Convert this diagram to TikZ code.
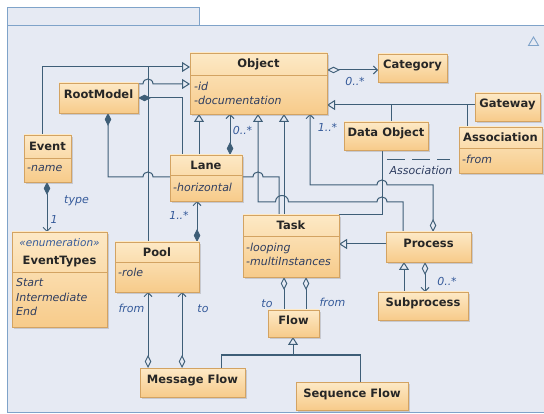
\documentclass[tikz,border=0pt]{standalone}
\usepackage{fontspec}
\setmainfont{DejaVu Sans}
\usetikzlibrary{arrows.meta,shadows}
\pgfdeclarelayer{bgframe}
\pgfdeclarelayer{lines}
\pgfsetlayers{bgframe,lines,main}
\definecolor{framefill}{HTML}{E6EAF3}
\definecolor{frameline}{HTML}{7FA3C9}
\definecolor{boxtop}{HTML}{FDE9C6}
\definecolor{boxbot}{HTML}{F7CB8A}
\definecolor{boxline}{HTML}{D3A362}
\definecolor{conn}{HTML}{3E5E77}
\definecolor{lblc}{HTML}{355A9A}
\definecolor{attrc}{HTML}{2E3D60}
\tikzset{
  ucls/.style={draw=boxline, line width=0.8pt, top color=boxtop, bottom color=boxbot,
    inner sep=0pt, outer sep=0pt, anchor=north west,
    drop shadow={shadow xshift=2pt, shadow yshift=-2pt, opacity=0.3}},
  uttl/.style={font=\bfseries\fontsize{11.5}{13}\selectfont, text=black!85, inner sep=0pt, anchor=base},
  uatt/.style={font=\itshape\fontsize{11}{13}\selectfont, text=attrc, inner sep=0pt, anchor=base west},
  ulab/.style={font=\itshape\fontsize{11}{13}\selectfont, text=lblc, inner sep=0pt, anchor=base},
  udiv/.style={draw=boxline, line width=0.7pt},
  ucn/.style={draw=conn, line width=1pt},
  ugen/.style={ucn, -{Triangle[open, length=8pt, width=10pt]}},
  ucomp/.style={ucn, {Diamond[length=13pt, width=6.5pt]}-{Straight Barb[length=4pt, width=8pt]}},
  ucompn/.style={ucn, {Diamond[length=13pt, width=6.5pt]}-},
  uaggr/.style={ucn, {Diamond[open, length=13pt, width=6.5pt]}-{Straight Barb[length=4pt, width=8pt]}},
  uaggrn/.style={ucn, {Diamond[open, length=13pt, width=6.5pt]}-},
  uhop/.style n args={3}{insert path={-- ({#1-(#3)},{#2}) .. controls ({#1-(#3)},{#2+1.333*abs(#3)}) and ({#1+(#3)},{#2+1.333*abs(#3)}) .. ({#1+(#3)},{#2})}},
}
\begin{document}
\begin{tikzpicture}[x=1pt,y=1pt]
\useasboundingbox (0,0) rectangle (544,-414);
\begin{pgfonlayer}{bgframe}
\fill[white] (0,0) rectangle (544,-414);
\draw[frameline, fill=framefill, line width=0.9pt] (7,-7) rectangle (199,-25);
\draw[frameline, fill=framefill, line width=0.9pt] (7,-25) rectangle (560,-412);
\draw[frameline, line width=0.9pt] (528.5,-45.5) -- (538.5,-45.5) -- (533.5,-37) -- cycle;
\end{pgfonlayer}

% ---------- class boxes ----------
\node[ucls, minimum width=137pt, minimum height=61pt] (Object) at (190,-53) {};
\node[ucls, minimum width=69pt, minimum height=28pt] (Category) at (378,-54) {};
\node[ucls, minimum width=79pt, minimum height=30pt] (RootModel) at (59,-83) {};
\node[ucls, minimum width=65pt, minimum height=28pt] (Gateway) at (475,-93) {};
\node[ucls, minimum width=47pt, minimum height=47pt] (Event) at (24,-135) {};
\node[ucls, minimum width=84pt, minimum height=28pt] (DataObject) at (344,-122) {};
\node[ucls, minimum width=83pt, minimum height=46pt] (Association) at (459,-127) {};
\node[ucls, minimum width=72pt, minimum height=46pt] (Lane) at (170,-155) {};
\node[ucls, minimum width=96pt, minimum height=62pt] (Task) at (243,-215) {};
\node[ucls, minimum width=85pt, minimum height=30pt] (Process) at (386,-232) {};
\node[ucls, minimum width=95pt, minimum height=95pt] (EventTypes) at (12,-232) {};
\node[ucls, minimum width=84pt, minimum height=50pt] (Pool) at (115,-242) {};
\node[ucls, minimum width=90pt, minimum height=28pt] (Subprocess) at (378,-292) {};
\node[ucls, minimum width=51pt, minimum height=27pt] (Flow) at (268,-310) {};
\node[ucls, minimum width=105pt, minimum height=29pt] (MsgFlow) at (140,-368) {};
\node[ucls, minimum width=112pt, minimum height=28pt] (SeqFlow) at (296,-382) {};

% ---------- connectors (below the boxes) ----------
\begin{pgfonlayer}{lines}
\coordinate (J1) at (148,-67);
\draw[ugen] (Event.north -| 42,0) |- (Object.west |- 0,-67);
\draw[ucn] (Pool.north -| 148,0) -- (J1);
\draw[ugen] (RootModel.east |- 0,-84) [uhop={148}{-84}{5}] -- (Object.west |- 0,-84);
\draw[ucompn] (RootModel.east |- 0,-98) -| (Lane.north -| 182,0);
\draw[ucompn] (RootModel.south -| 108,0) -- (108,-177) [uhop={148}{-177}{5}] [uhop={258}{-177}{5}] -- (279,-177) -- (Task.north -| 279,0);
\draw[ugen] (Lane.north -| 199,0) -- (Object.south -| 199,0);
\draw[ucomp] (Lane.north -| 230,0) -- (Object.south -| 230,0);
\draw[ucomp] (Pool.north -| 197,0) -- (Lane.south -| 197,0);
\draw[ugen] (Task.north -| 284,0) -- (Object.south -| 284,0);
\draw[ugen] (Process.north -| 403,0) -- (403,-202) [uhop={382}{-202}{-5}] [uhop={282}{-202}{-6.5}] -- (258,-202) -- (Object.south -| 258,0);
\draw[uaggr] (Process.north -| 433,0) -- (433,-185) [uhop={382}{-185}{-5}] -- (310,-185) -- (Object.south -| 310,0);
\draw[ucn] (DataObject.south -| 382,0) |- (Task.north east);
\coordinate (AC) at (382,-160);
\draw[ucn, dash pattern=on 18pt off 7pt, shorten <=5pt, shorten >=9pt] (AC) -- (Association.west |- AC);
\coordinate (J3) at (391,-105);
\coordinate (J4) at (467,-105);
\draw[ugen] (Gateway.west |- 0,-105) -- (Object.east |- 0,-105);
\draw[ucn] (DataObject.north -| J3) -- (J3);
\draw[ucn] (Association.north -| J4) -- (J4);
\draw[uaggr] (Object.east |- 0,-70) -- (Category.west |- 0,-70);
\draw[ucomp] (Event.south -| 47,0) -- (EventTypes.north -| 47,0);
\draw[ugen] (Process.west |- 0,-244) -- (Task.east |- 0,-244);
\draw[ugen] (Subprocess.north -| 404,0) -- (Process.south -| 404,0);
\draw[uaggr] (Process.south -| 425,0) -- (Subprocess.north -| 425,0);
\draw[uaggrn] (Task.south -| 284,0) -- (Flow.north -| 284,0);
\draw[uaggrn] (Task.south -| 306,0) -- (Flow.north -| 306,0);
\draw[uaggr] (MsgFlow.north -| 148,0) -- (Pool.south -| 148,0);
\draw[uaggr] (MsgFlow.north -| 182,0) -- (Pool.south -| 182,0);
\coordinate (J2) at (293,-355);
\draw[ugen] (MsgFlow.north -| 221,0) |- (J2) -- (Flow.south -| J2);
\draw[ucn] (SeqFlow.north -| 360,0) |- (J2);
\end{pgfonlayer}

% ---------- compartments and texts ----------
\draw[udiv] (Object.west |- 0,-75) -- (Object.east |- 0,-75);
\node[uttl] (ObjectT) at (258.5,-68) {Object};
\node[uatt] (ObjectA1) at (194,-91) {-id};
\node[uatt] (ObjectA2) at (194,-105) {-documentation};

\node[uttl] (CategoryT) at (412.5,-69) {Category};
\node[uttl] (RootModelT) at (98.5,-99) {RootModel};
\node[uttl] (GatewayT) at (507.5,-108) {Gateway};
\node[uttl] (DataObjectT) at (386,-137) {Data Object};
\node[uttl] (ProcessT) at (428.5,-248) {Process};
\node[uttl] (SubprocessT) at (423,-307) {Subprocess};
\node[uttl] (FlowT) at (293.5,-325) {Flow};
\node[uttl] (MsgFlowT) at (192.5,-383) {Message Flow};
\node[uttl] (SeqFlowT) at (352,-397) {Sequence Flow};

\draw[udiv] (Event.west |- 0,-158) -- (Event.east |- 0,-158);
\node[uttl] (EventT) at (47.5,-150.5) {Event};
\node[uatt] (EventA) at (27,-172) {-name};

\draw[udiv] (Association.west |- 0,-148) -- (Association.east |- 0,-148);
\node[uttl] (AssociationT) at (500.5,-142) {Association};
\node[uatt] (AssociationA) at (462,-163.5) {-from};

\draw[udiv] (Lane.west |- 0,-175) -- (Lane.east |- 0,-175);
\node[uttl] (LaneT) at (206,-170) {Lane};
\node[uatt] (LaneA) at (173,-191.5) {-horizontal};

\draw[udiv] (Task.west |- 0,-236) -- (Task.east |- 0,-236);
\node[uttl] (TaskT) at (291,-230) {Task};
\node[uatt] (TaskA1) at (246,-252) {-looping};
\node[uatt] (TaskA2) at (246,-266) {-multiInstances};

\draw[udiv] (EventTypes.west |- 0,-272) -- (EventTypes.east |- 0,-272);
\node[uatt, anchor=base, text=lblc, font=\itshape\fontsize{10.5}{12}\selectfont] (EventTypesS) at (59.5,-246.5) {«enumeration»};
\node[uttl] (EventTypesT) at (59.5,-265) {EventTypes};
\node[uatt] (EventTypesA1) at (16,-287) {Start};
\node[uatt] (EventTypesA2) at (16,-302) {Intermediate};
\node[uatt] (EventTypesA3) at (16,-316) {End};

\draw[udiv] (Pool.west |- 0,-262) -- (Pool.east |- 0,-262);
\node[uttl] (PoolT) at (157,-256.5) {Pool};
\node[uatt] (PoolA) at (118,-277) {-role};

% ---------- connector labels ----------
\node[ulab] (L1) at (242.5,-135) {0..*};
\node[ulab] (L2) at (179,-220) {1..*};
\node[ulab] (L3) at (327.5,-132) {1..*};
\node[ulab] (L4) at (355,-86) {0..*};
\node[ulab] (L5) at (76.5,-204) {type};
\node[ulab] (L6) at (54,-224) {1};
\node[ulab] (L7) at (447,-286) {0..*};
\node[ulab] (L8) at (267,-308) {to};
\node[ulab] (L9) at (332.5,-307) {from};
\node[ulab] (L10) at (131.5,-313) {from};
\node[ulab] (L11) at (203,-313) {to};
\node[ulab, text=attrc] (AL) at (421,-175) {Association};
\end{tikzpicture}
\end{document}
